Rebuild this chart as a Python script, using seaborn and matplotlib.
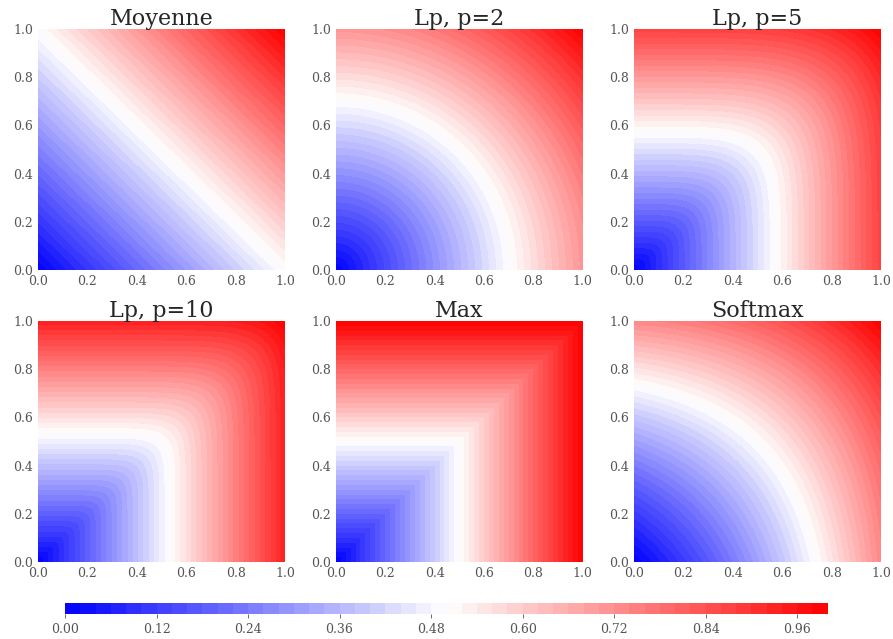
import numpy as np
import matplotlib
matplotlib.use("Agg")
import matplotlib.pyplot as plt
import seaborn as sns

sns.set_style("white")
plt.rcParams['font.family'] = ['DejaVu Serif']

titles = ["Moyenne", "Lp, p=2", "Lp, p=5", "Lp, p=10", "Max", "Softmax"]
kinds = ["mean", "lp", "lp", "lp", "max", "softmax"]
p_values = [None, 2, 5, 10, None, None]
n_levels = 50

xs = np.linspace(0, 1, 201)
X, Y = np.meshgrid(xs, xs)


def aggregate(kind, p):
    if kind == "mean":
        return (X + Y) / 2
    if kind == "lp":
        return ((X ** p + Y ** p) / 2) ** (1.0 / p)
    if kind == "max":
        return np.maximum(X, Y)
    ex, ey = np.exp(X), np.exp(Y)
    return (X * ex + Y * ey) / (ex + ey)


fig = plt.figure(figsize=(8.93, 6.39), dpi=100)
lefts = [0.0426, 0.376, 0.710]
bottoms = [0.5775, 0.1205]
w, h = 0.2766, 0.377

cs = None
for i, (title, kind, p) in enumerate(zip(titles, kinds, p_values)):
    r, c = divmod(i, 3)
    ax = fig.add_axes([lefts[c], bottoms[r], w, h])
    Z = aggregate(kind, p)
    cs = ax.contourf(X, Y, Z, levels=n_levels, cmap="bwr", vmin=0, vmax=1)
    ax.set_title(title, fontsize=16, color="#262626", pad=3)
    ax.set_xticks([0, 0.2, 0.4, 0.6, 0.8, 1.0])
    ax.set_yticks([0, 0.2, 0.4, 0.6, 0.8, 1.0])
    ax.tick_params(labelsize=9, colors="#555555", length=0)
    for s in ax.spines.values():
        s.set_visible(False)

cax = fig.add_axes([0.0728, 0.0391, 0.854, 0.0172])
cb = fig.colorbar(cs, cax=cax, orientation="horizontal")
cb.outline.set_visible(False)
cax.tick_params(labelsize=9, colors="#555555", length=3, width=0.6)

fig.savefig("out.png", dpi=100)
